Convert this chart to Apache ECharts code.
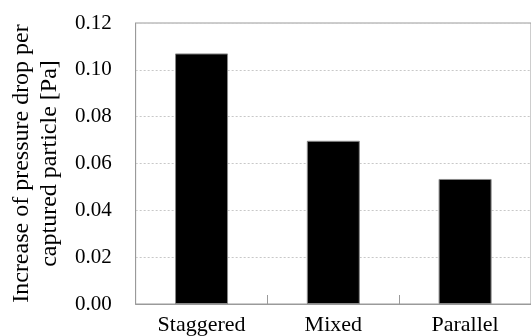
<!DOCTYPE html>
<html><head><meta charset="utf-8">
<script src="https://cdn.jsdelivr.net/npm/echarts@6/dist/echarts.min.js"></script>
<style>html,body{margin:0;padding:0;background:#fff}#c{width:531px;height:336px}</style>
</head><body><div id="c"></div>
<script>
const categories = ['Staggered', 'Mixed', 'Parallel'];
const values = [0.107, 0.0697, 0.0534];
const yTicks = [0, 0.02, 0.04, 0.06, 0.08, 0.10, 0.12];
const yName = 'Increase of pressure drop per\ncaptured particle [Pa]';

const chart = echarts.init(document.getElementById('c'), null, {renderer: 'canvas'});
const font = "'Liberation Serif', 'Times New Roman', serif";
chart.setOption({
  animation: false,
  grid: {left: 134, top: 23, width: 399, bottom: 32, show: true, borderColor: '#9a9a9a', borderWidth: 1},
  xAxis: {
    type: 'category', data: categories,
    axisLine: {lineStyle: {color: '#9a9a9a', width: 1}},
    axisTick: {show: true, inside: true, length: 9, lineStyle: {color: '#9a9a9a'}},
    axisLabel: {color: '#000', fontFamily: font, fontSize: 22, margin: 10}
  },
  yAxis: {
    type: 'value', min: yTicks[0], max: yTicks[yTicks.length - 1], interval: 0.02,
    name: yName, nameLocation: 'middle', nameGap: 65,
    nameTextStyle: {color: '#000', fontFamily: font, fontSize: 24, lineHeight: 28},
    axisLine: {show: true, lineStyle: {color: '#9a9a9a'}},
    axisTick: {show: false},
    axisLabel: {color: '#000', fontFamily: font, fontSize: 21, margin: 24,
      formatter: v => v.toFixed(2)},
    splitLine: {lineStyle: {color: '#c8c8c8', type: [2, 2], width: 1}}
  },
  series: [{
    type: 'bar', data: values, barWidth: 53,
    itemStyle: {color: '#000', borderColor: '#888', borderWidth: 1}
  }]
});
</script></body></html>
